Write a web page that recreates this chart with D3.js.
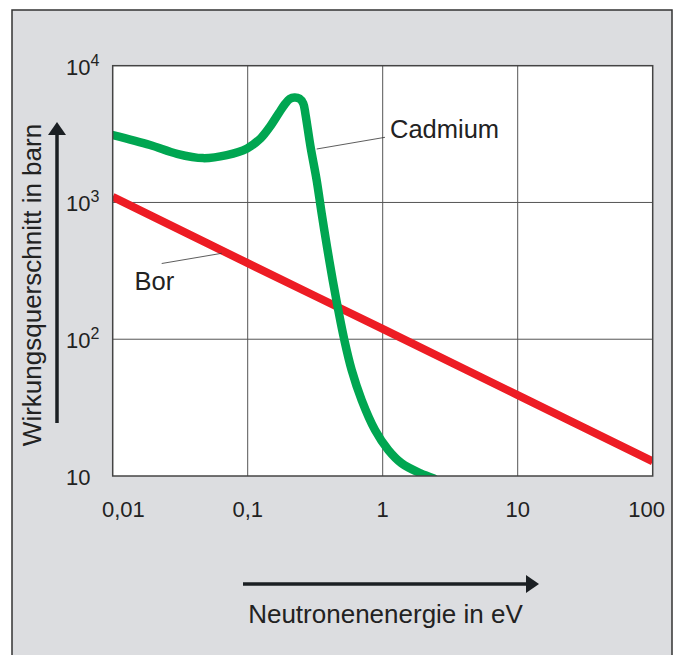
<!DOCTYPE html>
<html><head><meta charset="utf-8">
<script src="https://cdn.jsdelivr.net/npm/d3@7/dist/d3.min.js"></script>
<style>html,body{margin:0;padding:0;background:#fff;}svg{display:block;}</style>
</head><body>
<script>
// Data
const cadmiumEnergy = [0.01, 0.0189, 0.03, 0.0467, 0.07, 0.099, 0.125, 0.146, 0.17, 0.189, 0.205, 0.222, 0.242, 0.258, 0.268, 0.292, 0.324, 0.353, 0.386, 0.426, 0.469, 0.520, 0.589, 0.698, 0.877, 1.10, 1.38, 1.89, 2.4];
const cadmiumSigma  = [3110, 2630, 2270, 2110, 2220, 2485, 2950, 3575, 4500, 5250, 5720, 5850, 5750, 5300, 4400, 2553, 1460, 832, 480, 271, 163, 98.6, 59.6, 36, 21.7, 15.5, 12.4, 10.5, 9.6];
const borEnergy = [0.01, 0.1, 1, 10, 100];
const borSigma  = [1100, 360, 119, 39, 12.8];
const xTicks = [0.01, 0.1, 1, 10, 100];
const xTickLabels = ["0,01", "0,1", "1", "10", "100"];
const yTicks = [10, 100, 1000, 10000];
const yTickBase = ["10", "10", "10", "10"];
const yTickExp = ["", "2", "3", "4"];

const W = 676, H = 655;
const M = {left: 112.7, top: 65.7, right: 652.7, bottom: 476};
const svg = d3.select("body").append("svg").attr("width", W).attr("height", H);
const font = "Liberation Sans, Arial, Helvetica, sans-serif";

svg.append("rect").attr("x", 0).attr("y", 0).attr("width", W).attr("height", H).attr("fill", "#fff");
svg.append("rect").attr("x", 12).attr("y", 10).attr("width", 660).attr("height", 700)
  .attr("fill", "#dcdde0").attr("stroke", "#333").attr("stroke-width", 1.5);

const x = d3.scaleLog().domain([0.01, 100]).range([M.left, M.right]);
const y = d3.scaleLog().domain([10, 10000]).range([M.bottom, M.top]);

svg.append("rect").attr("x", M.left).attr("y", M.top).attr("width", M.right - M.left).attr("height", M.bottom - M.top)
  .attr("fill", "#fff");

// grid
svg.append("g").selectAll("line").data(xTicks.slice(1, -1)).join("line")
  .attr("x1", d => x(d)).attr("x2", d => x(d)).attr("y1", M.top).attr("y2", M.bottom)
  .attr("stroke", "#555").attr("stroke-width", 1);
svg.append("g").selectAll("line").data(yTicks.slice(1, -1)).join("line")
  .attr("y1", d => y(d)).attr("y2", d => y(d)).attr("x1", M.left).attr("x2", M.right)
  .attr("stroke", "#555").attr("stroke-width", 1);

// clip
svg.append("clipPath").attr("id", "clip").append("rect")
  .attr("x", M.left).attr("y", M.top).attr("width", M.right - M.left).attr("height", M.bottom - M.top);

const line = d3.line().x(d => x(d[0])).y(d => y(d[1])).curve(d3.curveCatmullRom.alpha(0.5));
const gPlot = svg.append("g").attr("clip-path", "url(#clip)");
gPlot.append("path").datum(d3.zip(borEnergy, borSigma)).attr("d", line)
  .attr("fill", "none").attr("stroke", "#ed1c24").attr("stroke-width", 8);
gPlot.append("path").datum(d3.zip(cadmiumEnergy, cadmiumSigma)).attr("d", line)
  .attr("fill", "none").attr("stroke", "#00a651").attr("stroke-width", 8.5)
  .attr("stroke-linejoin", "round").attr("stroke-linecap", "round");

// frame
svg.append("rect").attr("x", M.left).attr("y", M.top).attr("width", M.right - M.left).attr("height", M.bottom - M.top)
  .attr("fill", "none").attr("stroke", "#444").attr("stroke-width", 1.5);

// x tick labels
svg.append("g").selectAll("text").data(xTicks).join("text")
  .attr("x", (d, i) => i === 0 ? x(d) - 10.7 : i === xTicks.length - 1 ? x(d) + 12.3 : x(d))
  .attr("y", 517)
  .attr("text-anchor", (d, i) => i === 0 ? "start" : i === xTicks.length - 1 ? "end" : "middle")
  .attr("font-family", font).attr("font-size", 22).attr("fill", "#222")
  .text((d, i) => xTickLabels[i]);

// y tick labels
const yl = svg.append("g").selectAll("text").data(yTicks).join("text")
  .attr("x", 66).attr("y", d => y(d) + 9)
  .attr("font-family", font).attr("font-size", 22).attr("fill", "#222");
yl.append("tspan").text((d, i) => yTickBase[i]);
yl.append("tspan").attr("dy", -9).attr("font-size", 16).text((d, i) => yTickExp[i]);

// labels with leader lines
svg.append("line").attr("x1", 316.7).attr("y1", 149).attr("x2", 385).attr("y2", 137.3)
  .attr("stroke", "#333").attr("stroke-width", 0.8);
svg.append("text").attr("x", 390).attr("y", 137.5).attr("font-family", font).attr("font-size", 25.5)
  .attr("fill", "#222").text("Cadmium");
svg.append("line").attr("x1", 161.7).attr("y1", 263.5).attr("x2", 221.7).attr("y2", 253.3)
  .attr("stroke", "#333").attr("stroke-width", 0.8);
svg.append("text").attr("x", 134.5).attr("y", 290).attr("font-family", font).attr("font-size", 25.5)
  .attr("fill", "#222").text("Bor");

// arrows
const ac = "#1b1f23";
svg.append("line").attr("x1", 243).attr("y1", 584).attr("x2", 528).attr("y2", 584)
  .attr("stroke", ac).attr("stroke-width", 3.5);
svg.append("path").attr("d", "M526,575 L539,584 L526,593 Z").attr("fill", ac);
svg.append("line").attr("x1", 57).attr("y1", 423).attr("x2", 57).attr("y2", 133)
  .attr("stroke", ac).attr("stroke-width", 3.5);
svg.append("path").attr("d", "M48,135 L57,122 L66,135 Z").attr("fill", ac);

// axis titles
svg.append("text").attr("x", 385.5).attr("y", 623).attr("text-anchor", "middle")
  .attr("font-family", font).attr("font-size", 26).attr("fill", "#222").text("Neutronenenergie in eV");
svg.append("text").attr("transform", "translate(40.5,285) rotate(-90)").attr("text-anchor", "middle")
  .attr("font-family", font).attr("font-size", 26).attr("fill", "#222").text("Wirkungsquerschnitt in barn");
</script>
</body></html>
